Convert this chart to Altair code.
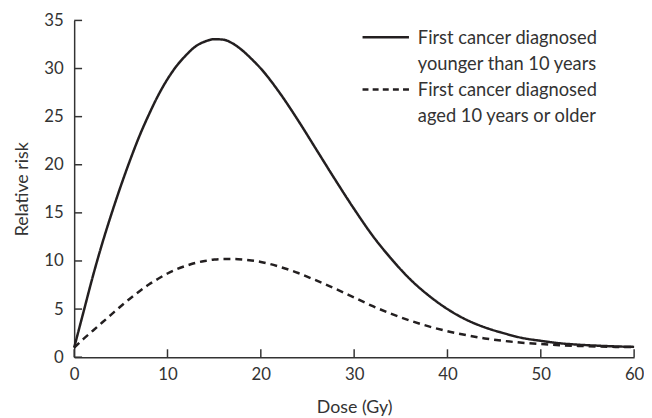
import altair as alt
import pandas as pd

# ---- data ----
dose = [0, 1, 2, 3, 4, 5, 6, 7, 8, 9, 10, 11, 12, 13, 14, 15, 16, 17, 18, 19, 20,
        22, 24, 26, 28, 30, 32, 34, 36, 38, 40, 42, 44, 46, 48, 50, 52, 54, 56, 58, 60]
rr_young = [1.0, 4.7, 8.4, 11.8, 14.9, 17.8, 20.5, 23.0, 25.2, 27.2, 28.9, 30.3, 31.4, 32.3, 32.8,
            33.05, 33.0, 32.6, 31.9, 31.0, 30.0,
            27.5, 24.6, 21.5, 18.4, 15.4, 12.6, 10.2, 8.1, 6.4, 5.0, 3.9, 3.1, 2.5, 2.0,
            1.7, 1.45, 1.3, 1.2, 1.12, 1.07]
rr_older = [1.0, 1.9, 2.75, 3.6, 4.45, 5.3, 6.1, 6.85, 7.55, 8.15, 8.7, 9.15, 9.5, 9.8, 10.0,
            10.15, 10.2, 10.2, 10.15, 10.05, 9.9,
            9.4, 8.75, 7.95, 7.1, 6.2, 5.3, 4.5, 3.8, 3.2, 2.7, 2.3, 1.95, 1.7, 1.5,
            1.37, 1.25, 1.17, 1.11, 1.07, 1.05]
groups = ["First cancer diagnosed younger than 10 years",
          "First cancer diagnosed aged 10 years or older"]
legend_lines = [["First cancer diagnosed", "younger than 10 years"],
                ["First cancer diagnosed", "aged 10 years or older"]]
x_ticks = [0, 10, 20, 30, 40, 50, 60]
y_ticks = [0, 5, 10, 15, 20, 25, 30, 35]

# ---- styling ----
FONT = "Lato"
TXT = "#333333"
AX = "#333333"
LINE = "#231f20"
W, H = 567, 341
dashes = [[1, 0], [7, 5]]
legend_dashes = [[1, 0], [6, 4.25]]

df = pd.DataFrame({
    "dose": dose * 2,
    "rr": rr_young + rr_older,
    "group": [groups[0]] * len(dose) + [groups[1]] * len(dose),
})

x_scale = alt.Scale(domain=[0, 60], nice=False, zero=False)
y_scale = alt.Scale(domain=[0, 35], nice=False, zero=False)
x_axis = alt.Axis(values=x_ticks, title="Dose (Gy)", ticks=False, grid=False,
                  labelPadding=10, titlePadding=16, labelFlush=False)
y_axis = alt.Axis(values=y_ticks, title="Relative risk", ticks=False, grid=False,
                  labelPadding=11, titlePadding=13)

lines = alt.Chart(df).mark_line(strokeWidth=2.5, color=LINE, interpolate="monotone").encode(
    x=alt.X("dose:Q", scale=x_scale, axis=x_axis),
    y=alt.Y("rr:Q", scale=y_scale, axis=y_axis),
    strokeDash=alt.StrokeDash("group:N", scale=alt.Scale(domain=groups, range=dashes), legend=None),
    detail="group:N",
)

# inward-pointing tick marks
xt = alt.Chart(pd.DataFrame({"dose": x_ticks})).mark_rule(color=AX, strokeWidth=1.5).encode(
    x=alt.X("dose:Q", scale=x_scale, axis=x_axis),
    y=alt.value(H), y2=alt.value(H - 8),
)
yt = alt.Chart(pd.DataFrame({"rr": y_ticks})).mark_rule(color=AX, strokeWidth=1.5).encode(
    y=alt.Y("rr:Q", scale=y_scale, axis=y_axis),
    x=alt.value(0), x2=alt.value(8),
)

# legend (manual, top right)
one = pd.DataFrame({"k": [0]})
legend_layers = []
for i in range(2):
    legend_layers.append(
        alt.Chart(one).mark_rule(color=LINE, strokeWidth=2.5, strokeDash=legend_dashes[i]).encode(
            x=alt.value(292), x2=alt.value(339), y=alt.value(17 + 53 * i))
    )
    legend_layers.append(
        alt.Chart(one).mark_text(align="left", baseline="alphabetic", font=FONT, fontSize=18.5,
                                 lineHeight=26.7, color=TXT).encode(
            x=alt.value(348), y=alt.value(23.5 + 53 * i), text=alt.value(legend_lines[i]))
    )

chart = alt.layer(lines, xt, yt, *legend_layers).properties(
    width=W, height=H,
    autosize=alt.AutoSizeParams(type="none"),
    padding={"left": 67, "top": 10, "right": 10, "bottom": 59},
).configure_view(stroke=None).configure_axis(
    domainColor=AX, domainWidth=1.5,
    labelFont=FONT, labelFontSize=17, labelColor=TXT,
    titleFont=FONT, titleFontSize=18, titleColor=TXT, titleFontWeight="normal",
)

chart.save("out.html", embed_options={"renderer": "svg", "actions": False})
